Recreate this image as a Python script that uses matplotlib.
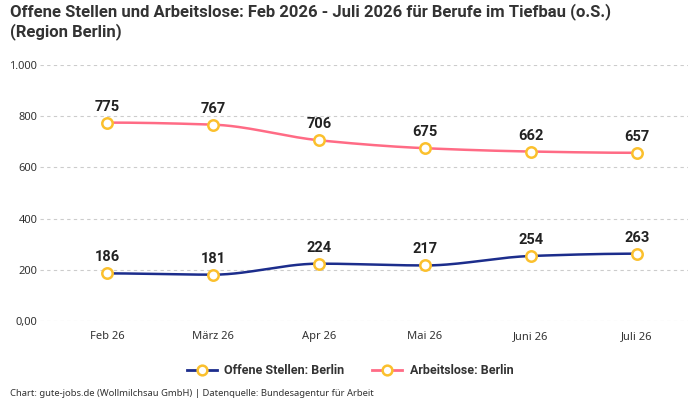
import numpy as np
import matplotlib
matplotlib.use("Agg")
import matplotlib.pyplot as plt
from matplotlib.lines import Line2D
from matplotlib.ticker import FixedLocator, FixedFormatter

plt.rcParams['font.family'] = ['Noto Sans', 'DejaVu Sans']

categories = ["Feb 26", "März 26", "Apr 26", "Mai 26", "Juni 26", "Juli 26"]
offene_stellen = [186, 181, 224, 217, 254, 263]
arbeitslose = [775, 767, 706, 675, 662, 657]
y_ticks = [0, 200, 400, 600, 800, 1000]
y_tick_labels = ["0,00", "200", "400", "600", "800", "1.000"]

title = "Offene Stellen und Arbeitslose: Feb 2026 - Juli 2026 für Berufe im Tiefbau (o.S.)\n(Region Berlin)"
footer = "Chart: gute-jobs.de (Wollmilchsau GmbH) | Datenquelle: Bundesagentur für Arbeit"

navy = "#1c2d8c"
pink = "#ff6b85"
gold = "#fbc02d"
text_col = "#333333"
roboto = ['Roboto', 'DejaVu Sans']


def smooth(x, y, n=30):
    x = np.asarray(x, float)
    y = np.asarray(y, float)
    d = np.diff(y) / np.diff(x)
    m = np.zeros_like(y)
    for i in range(1, len(y) - 1):
        if d[i - 1] * d[i] <= 0:
            m[i] = 0
        else:
            m[i] = 2 / (1 / d[i - 1] + 1 / d[i])
    xs, ys = [], []
    for i in range(len(x) - 1):
        h = x[i + 1] - x[i]
        t = np.linspace(0, 1, n)
        h00 = 2 * t**3 - 3 * t**2 + 1
        h10 = t**3 - 2 * t**2 + t
        h01 = -2 * t**3 + 3 * t**2
        h11 = t**3 - t**2
        xs.append(x[i] + t * h)
        ys.append(h00 * y[i] + h10 * h * m[i] + h01 * y[i + 1] + h11 * h * m[i + 1])
    return np.concatenate(xs), np.concatenate(ys)


fig = plt.figure(figsize=(7, 4), dpi=100)
ax = fig.add_axes([40 / 700, 1 - 321 / 400, 648 / 700, 256 / 400])

x = np.arange(len(categories))
for vals, col in [(offene_stellen, navy), (arbeitslose, pink)]:
    sx, sy = smooth(x, vals)
    ax.plot(sx, sy, color=col, lw=1.8, zorder=3, solid_capstyle='round')
    ax.plot(x, vals, ls='none', marker='o', ms=7.5, mfc='white', mec=gold, mew=1.8, zorder=4)
    for xi, v in zip(x, vals):
        ax.annotate(str(v), (xi, v), xytext=(0, 6.5), textcoords='offset points',
                    ha='center', va='bottom', fontsize=10.5, fontweight='bold',
                    color='#222222', zorder=5, family=roboto)

ax.set_xlim(-0.632, 5.481)
ax.set_ylim(0, 1000)
ax.yaxis.set_major_locator(FixedLocator(y_ticks))
ax.yaxis.set_major_formatter(FixedFormatter(y_tick_labels))
ax.set_xticks(x)
ax.set_xticklabels(categories)
ax.tick_params(axis='both', length=0, labelsize=8, colors=text_col)
ax.tick_params(axis='x', pad=7)
ax.yaxis.set_tick_params(pad=2)
ax.grid(axis='y', color='#cccccc', ls=(0, (3, 3)), lw=0.8)
ax.set_axisbelow(True)
for s in ax.spines.values():
    s.set_visible(False)

fig.text(10 / 700, 1 - 3 / 400, title, ha='left', va='top', fontsize=12,
         fontweight='bold', color=text_col, linespacing=1.2, family=roboto)

handles = [
    Line2D([0], [0], color=navy, lw=2, marker='o', ms=7, mfc='white', mec=gold, mew=1.8),
    Line2D([0], [0], color=pink, lw=2, marker='o', ms=7, mfc='white', mec=gold, mew=1.8),
]
fig.legend(handles, ["Offene Stellen: Berlin", "Arbeitslose: Berlin"], loc='center',
           bbox_to_anchor=(350 / 700, 1 - 371 / 400), ncol=2, frameon=False,
           prop={'size': 9, 'weight': 'bold', 'family': roboto}, labelcolor=text_col,
           handlelength=2.4, columnspacing=2.2, handletextpad=0.6)

fig.text(10 / 700, 1 - 393 / 400, footer, ha='left', va='center', fontsize=6.8, color=text_col)

fig.savefig("out.png", dpi=100)
